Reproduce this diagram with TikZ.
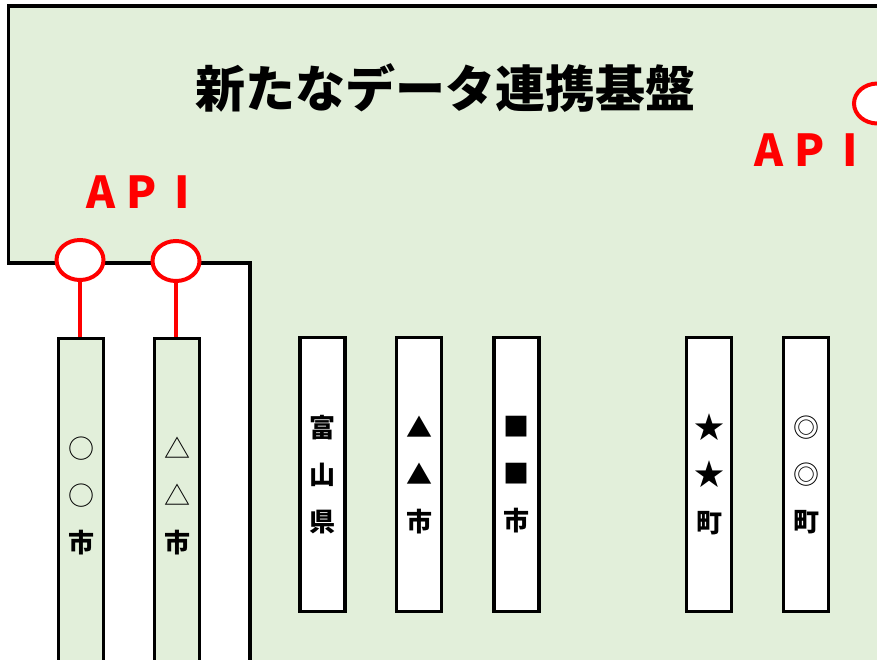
\documentclass[tikz,border=0pt]{standalone}
\usepackage{fontspec}
\setmainfont{Noto Sans CJK JP}
\usetikzlibrary{shapes.geometric}
\definecolor{basegreen}{HTML}{E2EFDA}
\definecolor{apired}{HTML}{FF0000}
\newcommand\apiword{\makebox[40.5bp]{A}\makebox[40.5bp]{P}\makebox[40.5bp]{I}}

\begin{document}
\begin{tikzpicture}[line join=miter,
  colbox/.style={rectangle, draw=black, line width=3.4bp, minimum width=45bp, inner sep=0pt},
  coltext/.style={align=center, font=\fontsize{26bp}{47bp}\selectfont\bfseries},
  port/.style={ellipse, draw=apired, fill=white, line width=4bp, minimum width=47bp, minimum height=40bp, inner sep=0pt},
  apilink/.style={draw=apired, line width=4bp},
  apitext/.style={text=apired, inner sep=0pt, font=\fontsize{44bp}{44bp}\selectfont\bfseries} ]
  \useasboundingbox (0bp,0bp) rectangle (877bp,-660bp);
%%
  % Platform
  \draw [fill=basegreen, line width=3.4bp] (8.5bp,-6bp) -- (900bp,-6bp) -- (900bp,-700bp) -- (250bp,-700bp)
    -- (250bp,-263bp) -- (8.5bp,-263bp) -- cycle;
  \node (title) at (445bp,-88bp) {\fontsize{50bp}{50bp}\selectfont\bfseries 新たなデータ連携基盤};
  % Node: connected cities
\begin{scope}
  \node [colbox, fill=basegreen, minimum height=362bp] (oo) at (81bp,-519.5bp) {};
  \node [colbox, fill=basegreen, minimum height=362bp] (sankaku) at (177bp,-519.5bp) {};
  \node [coltext] (ootext) at ([yshift=-159bp]oo.north) {\mdseries ○\\\mdseries ○\\\bfseries 市};
  \node [coltext] (sankakutext) at ([yshift=-159bp]sankaku.north) {\mdseries △\\\mdseries △\\\bfseries 市};
\end{scope}
  % Node: other members
\begin{scope}[every node/.append style={minimum height=274bp}]
  \node [colbox, fill=white] (toyama) at (322.5bp,-474.5bp) {};
  \node [colbox, fill=white] (kuro) at (419bp,-474.5bp) {};
  \node [colbox, fill=white] (shikaku) at (516.5bp,-474.5bp) {};
  \node [colbox, fill=white] (hoshi) at (709bp,-474.5bp) {};
  \node [colbox, fill=white] (nijuu) at (806bp,-474.5bp) {};
\end{scope}
  \node [coltext] (toyamatext) at ([yshift=-139bp]toyama.north) {富\\山\\県};
  \node [coltext] (kurotext) at ([yshift=-139bp]kuro.north) {▲\\▲\\市};
  \node [coltext] (shikakutext) at ([yshift=-139bp]shikaku.north) {■\\■\\市};
  \node [coltext] (hoshitext) at ([yshift=-139bp]hoshi.north) {{\fontsize{30bp}{47bp}\selectfont ★}\\{\fontsize{30bp}{47bp}\selectfont ★}\\町};
  \node [coltext] (nijuutext) at ([yshift=-139bp]nijuu.north) {\mdseries ◎\\\mdseries ◎\\\bfseries 町};
  % Node: API ports
  \node [port] (api1) at (80bp,-260bp) {};
  \node [port] (api2) at (176bp,-261bp) {};
  \node [port] (api3) at (877.5bp,-103.5bp) {};
  \node [apitext] (apileft) at (142bp,-192bp) {\apiword};
  \node [apitext] (apiright) at (810bp,-150.5bp) {\apiword};
  % Edge: api1 -- oo
  \draw [apilink] (api1.south) -- (api1.south |- oo.north);
  % Edge: api2 -- sankaku
  \draw [apilink] (api2.south) -- (api2.south |- sankaku.north);
%
\end{tikzpicture}
\end{document}
